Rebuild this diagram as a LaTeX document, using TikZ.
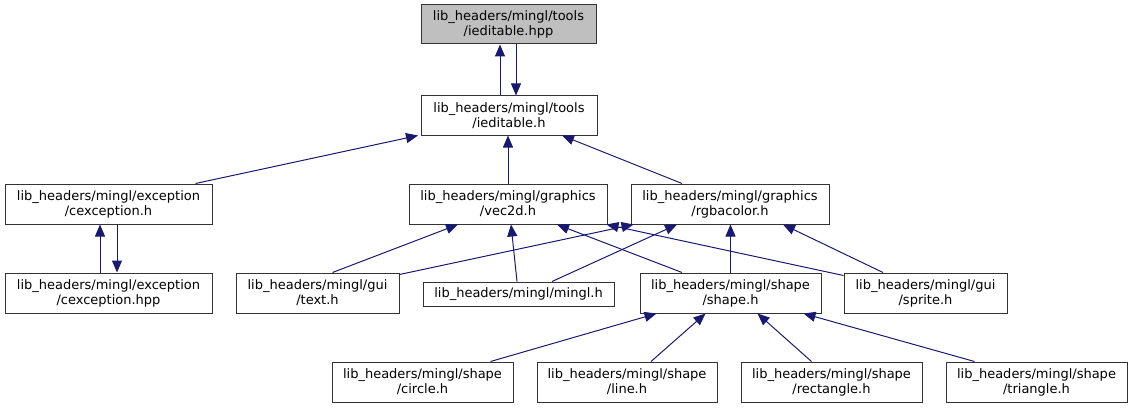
\documentclass[tikz,border=0pt]{standalone}
\usepackage{fontspec}
\setmainfont{DejaVu Sans}
\usetikzlibrary{arrows.meta,calc}
\definecolor{edgeblue}{HTML}{191970}
\definecolor{boxgray}{HTML}{BFBFBF}
\tikzset{
  box/.style={draw=black!80, line width=1pt, fill=white, align=center, inner sep=0pt,
    minimum height=40pt, font=\fontsize{13}{15}\selectfont},
  arr/.style={draw=edgeblue, line width=1pt, -{Triangle[length=12pt,width=10pt,fill=edgeblue]}}
}
\begin{document}
\begin{tikzpicture}[x=1pt,y=-1pt]
\useasboundingbox (0,0) rectangle (1134,409);
\node[box, fill=boxgray, minimum width=175pt, minimum height=39pt] (hpp) at (508.5,24.5) {lib\_headers/mingl/tools\\/ieditable.hpp};
\node[box, minimum width=176pt, minimum height=39pt] (ied) at (509,115.5) {lib\_headers/mingl/tools\\/ieditable.h};
\node[box, minimum width=207pt] (cexh) at (108.5,204) {lib\_headers/mingl/exception\\/cexception.h};
\node[box, minimum width=207pt] (cexhpp) at (108.5,293) {lib\_headers/mingl/exception\\/cexception.hpp};
\node[box, minimum width=198pt] (vec) at (508,204) {lib\_headers/mingl/graphics\\/vec2d.h};
\node[box, minimum width=198pt] (rgba) at (730,204) {lib\_headers/mingl/graphics\\/rgbacolor.h};
\node[box, minimum width=163pt] (text) at (317.5,293) {lib\_headers/mingl/gui\\/text.h};
\node[box, minimum width=191pt, minimum height=24pt] (mingl) at (518.5,294) {lib\_headers/mingl/mingl.h};
\node[box, minimum width=181pt] (shape) at (730.5,293) {lib\_headers/mingl/shape\\/shape.h};
\node[box, minimum width=163pt] (sprite) at (925.5,293) {lib\_headers/mingl/gui\\/sprite.h};
\node[box, minimum width=181pt] (circle) at (422.5,382) {lib\_headers/mingl/shape\\/circle.h};
\node[box, minimum width=180pt] (line) at (627,382) {lib\_headers/mingl/shape\\/line.h};
\node[box, minimum width=181pt] (rect) at (831.5,382) {lib\_headers/mingl/shape\\/rectangle.h};
\node[box, minimum width=181pt] (tri) at (1036.5,382) {lib\_headers/mingl/shape\\/triangle.h};

\draw[arr] ($(ied.north)+(-9,0)$) -- ($(hpp.south)+(-8.5,0)$);
\draw[arr] ($(hpp.south)+(7.5,0)$) -- ($(ied.north)+(7,0)$);
\draw[arr] ($(cexh.north)+(87,0)$) -- ($(ied.south)+(-91,0)$);
\draw[arr] (vec.north) -- (vec.north |- ied.south);
\draw[arr] ($(rgba.north)+(-48,0)$) -- ($(ied.south)+(53,0)$);
\draw[arr] ($(cexhpp.north)+(-8.5,0)$) -- ($(cexh.south)+(-8.5,0)$);
\draw[arr] ($(cexh.south)+(8.5,0)$) -- ($(cexhpp.north)+(8.5,0)$);
\draw[arr] ($(text.north)+(15,0)$) -- ($(vec.south)+(-50,0)$);
\draw[arr] ($(text.north east)+(0,2)$) -- ($(rgba.south west)+(3,0)$);
\draw[arr] ($(mingl.north)+(-1.5,0)$) -- ($(vec.south)+(3,0)$);
\draw[arr] ($(mingl.north)+(33.5,0)$) -- ($(rgba.south)+(-53,0)$);
\draw[arr] ($(shape.north)+(-48.5,0)$) -- ($(vec.south)+(49,0)$);
\draw[arr] (shape.north) -- (shape.north |- rgba.south);
\draw[arr] ($(sprite.north west)+(0,3)$) -- ($(vec.south east)+(-1,0)$);
\draw[arr] ($(sprite.north)+(-42.5,0)$) -- ($(rgba.south)+(53,0)$);
\draw[arr] ($(circle.north)+(68,0)$) -- ($(shape.south)+(-74,0)$);
\draw[arr] ($(line.north)+(24,0)$) -- ($(shape.south)+(-25,0)$);
\draw[arr] ($(rect.north)+(-20,0)$) -- ($(shape.south)+(27,0)$);
\draw[arr] ($(tri.north)+(-62,0)$) -- ($(shape.south)+(73,0)$);
\end{tikzpicture}
\end{document}
